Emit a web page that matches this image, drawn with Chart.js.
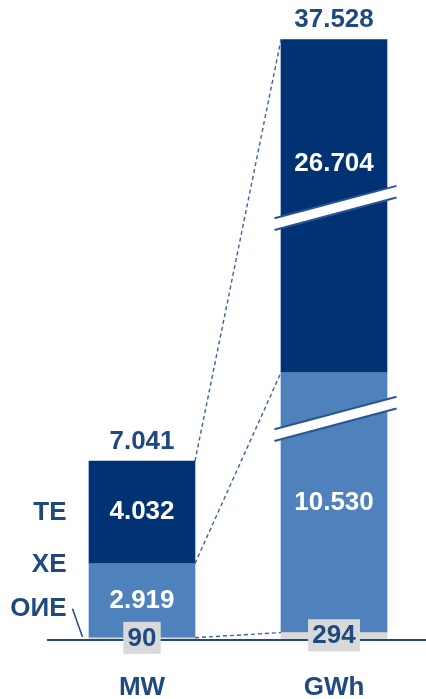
<!DOCTYPE html>
<html>
<head>
<meta charset="utf-8">
<script src="https://cdn.jsdelivr.net/npm/chart.js@4/dist/chart.umd.min.js"></script>
<style>
  html, body { margin: 0; padding: 0; background: #ffffff; overflow: hidden; }
  canvas { display: block; }
</style>
</head>
<body>
<canvas id="chart" width="426" height="699" style="width:426px;height:699px"></canvas>
<script>
// Installed capacity (MW) and production (GWh) by plant type
const categories = ['MW', 'GWh'];
const seriesNames = ['ОИЕ', 'ХЕ', 'ТЕ'];
const oieValues = [90, 294];
const heValues = [2919, 10530];
const teValues = [4032, 26704];
// value ranges that the broken axis leaves out (only the GWh column reaches them)
const axisBreaks = [[8700, 9000], [17300, 30900]];

const TEXT = '#1F4A80';
const COLORS = ['#D9D9D9', '#4F81BD', '#003274'];
const FONT = '"Liberation Sans", Arial, sans-serif';

const totals = categories.map((_, i) => oieValues[i] + heValues[i] + teValues[i]);
const fmt = v => String(v).replace(/\B(?=(\d{3})+(?!\d))/g, '.');

// Linear scale with collapsed value ranges (axis breaks)
class BrokenLinearScale extends Chart.LinearScale {
  _squeeze(v) {
    let out = v;
    for (const [a, b] of (this.options.breaks || [])) {
      out -= Math.min(Math.max(v - a, 0), b - a);
    }
    return out;
  }
  getPixelForValue(value) {
    if (value === null || value === undefined || isNaN(value)) return NaN;
    const lo = this._squeeze(this.min), hi = this._squeeze(this.max);
    return this.getPixelForDecimal((this._squeeze(value) - lo) / (hi - lo));
  }
  getValueForPixel(pixel) {
    const lo = this._squeeze(this.min), hi = this._squeeze(this.max);
    let v = lo + this.getDecimalForPixel(pixel) * (hi - lo);
    for (const [a, b] of (this.options.breaks || [])) {
      if (v > a) v += (b - a);
    }
    return v;
  }
}
BrokenLinearScale.id = 'brokenLinear';
BrokenLinearScale.defaults = Chart.LinearScale.defaults;
Chart.register(BrokenLinearScale);

function breakMark(ctx, cx, cy) {
  const half = 61, slope = 0.266, gap = 5.85;
  const yAt = (x, off) => cy - slope * (x - cx) + off;
  const x0 = cx - half, x1 = cx + half;
  ctx.fillStyle = '#ffffff';
  ctx.beginPath();
  ctx.moveTo(x0, yAt(x0, -gap));
  ctx.lineTo(x1, yAt(x1, -gap));
  ctx.lineTo(x1, yAt(x1, gap));
  ctx.lineTo(x0, yAt(x0, gap));
  ctx.closePath();
  ctx.fill();
  ctx.strokeStyle = '#2B5592';
  ctx.lineWidth = 2;
  for (const off of [-gap, gap]) {
    ctx.beginPath();
    ctx.moveTo(x0, yAt(x0, off));
    ctx.lineTo(x1, yAt(x1, off));
    ctx.stroke();
  }
}

const annotate = {
  id: 'annotate',
  afterDatasetsDraw(chart, args, opts) {
    const ctx = chart.ctx;
    const y = chart.scales.y;
    const metas = seriesNames.map((_, i) => chart.getDatasetMeta(i));
    const baseY = y.getPixelForValue(0);
    ctx.save();

    // baseline
    ctx.strokeStyle = TEXT;
    ctx.lineWidth = 2;
    ctx.beginPath();
    ctx.moveTo(chart.chartArea.left - 95, baseY);
    ctx.lineTo(chart.width, baseY);
    ctx.stroke();

    // dashed connectors between the segment tops of both columns
    ctx.strokeStyle = '#3D62A0';
    ctx.lineWidth = 1.4;
    ctx.setLineDash([4, 3]);
    metas.forEach(m => {
      const a = m.data[0], b = m.data[1];
      ctx.beginPath();
      ctx.moveTo(a.x + a.width / 2, a.y);
      ctx.lineTo(b.x - b.width / 2, b.y);
      ctx.stroke();
    });
    ctx.setLineDash([]);

    // axis break marks on the GWh column
    const gwh = metas[2].data[1];
    axisBreaks.forEach(([a]) => breakMark(ctx, gwh.x + 1.5, y.getPixelForValue(a)));

    ctx.font = `bold 26px ${FONT}`;
    ctx.textBaseline = 'middle';
    ctx.textAlign = 'center';

    // totals above the columns
    ctx.fillStyle = TEXT;
    totals.forEach((t, j) => {
      const el = metas[2].data[j];
      ctx.fillText(fmt(t), el.x, el.y - 19.5);
    });

    // white values inside the ХЕ and ТЕ segments
    ctx.fillStyle = '#ffffff';
    [heValues, teValues].forEach((vals, k) => {
      const m = metas[k + 1];
      vals.forEach((v, j) => {
        const el = m.data[j];
        const off = (opts.insideOffsets || {})[`${k + 1}-${j}`] || 0;
        ctx.fillText(fmt(v), el.x, (el.y + el.base) / 2 + off);
      });
    });

    // ОИЕ values in grey boxes on the baseline
    oieValues.forEach((v, j) => {
      const el = metas[0].data[j];
      const txt = fmt(v);
      const w = ctx.measureText(txt).width + 8.5;
      const cy = (el.y + el.base) / 2 - 1;
      ctx.fillStyle = '#D9D9D9';
      ctx.fillRect(el.x - w / 2, cy - 16, w, 32);
      ctx.fillStyle = TEXT;
      ctx.fillText(txt, el.x, cy + 1);
    });

    // series names to the left of the MW column
    ctx.textAlign = 'right';
    ctx.fillStyle = TEXT;
    const mw = metas.map(m => m.data[0]);
    const xr = mw[0].x - mw[0].width / 2 - 22.5;
    ctx.fillText(seriesNames[2], xr, (mw[2].y + mw[2].base) / 2 + 1);
    ctx.fillText(seriesNames[1], xr, mw[1].y + 1.5);
    const oieY = mw[0].y - 29;
    ctx.fillText(seriesNames[0], xr, oieY);
    ctx.strokeStyle = TEXT;
    ctx.lineWidth = 1.5;
    ctx.beginPath();
    ctx.moveTo(xr + 6, oieY);
    ctx.lineTo(xr + 16, baseY - 3);
    ctx.stroke();

    ctx.restore();
  }
};

const series = [oieValues, heValues, teValues];

new Chart(document.getElementById('chart'), {
  type: 'bar',
  data: {
    labels: categories,
    datasets: seriesNames.map((name, i) => ({
      label: name,
      data: series[i],
      backgroundColor: COLORS[i],
      borderWidth: 0,
      barThickness: 106,
      clip: false
    }))
  },
  options: {
    responsive: false,
    animation: false,
    events: [],
    layout: { padding: { top: 39.5, left: 142, right: 92, bottom: 0 } },
    plugins: {
      legend: { display: false },
      tooltip: { enabled: false },
      annotate: { insideOffsets: { '2-1': -42 } }
    },
    scales: {
      x: {
        type: 'category',
        stacked: true,
        offset: false,
        grid: { display: false, drawTicks: false },
        border: { display: false },
        ticks: {
          color: TEXT,
          font: { family: FONT, size: 26, weight: 'bold' },
          padding: 32,
          maxRotation: 0,
          autoSkip: false
        },
        afterFit(scale) { scale.height = 59; }
      },
      y: {
        type: 'brokenLinear',
        stacked: true,
        display: false,
        bounds: 'data',
        min: 0,
        max: Math.max(...totals),
        breaks: axisBreaks
      }
    }
  },
  plugins: [annotate]
});
</script>
</body>
</html>
